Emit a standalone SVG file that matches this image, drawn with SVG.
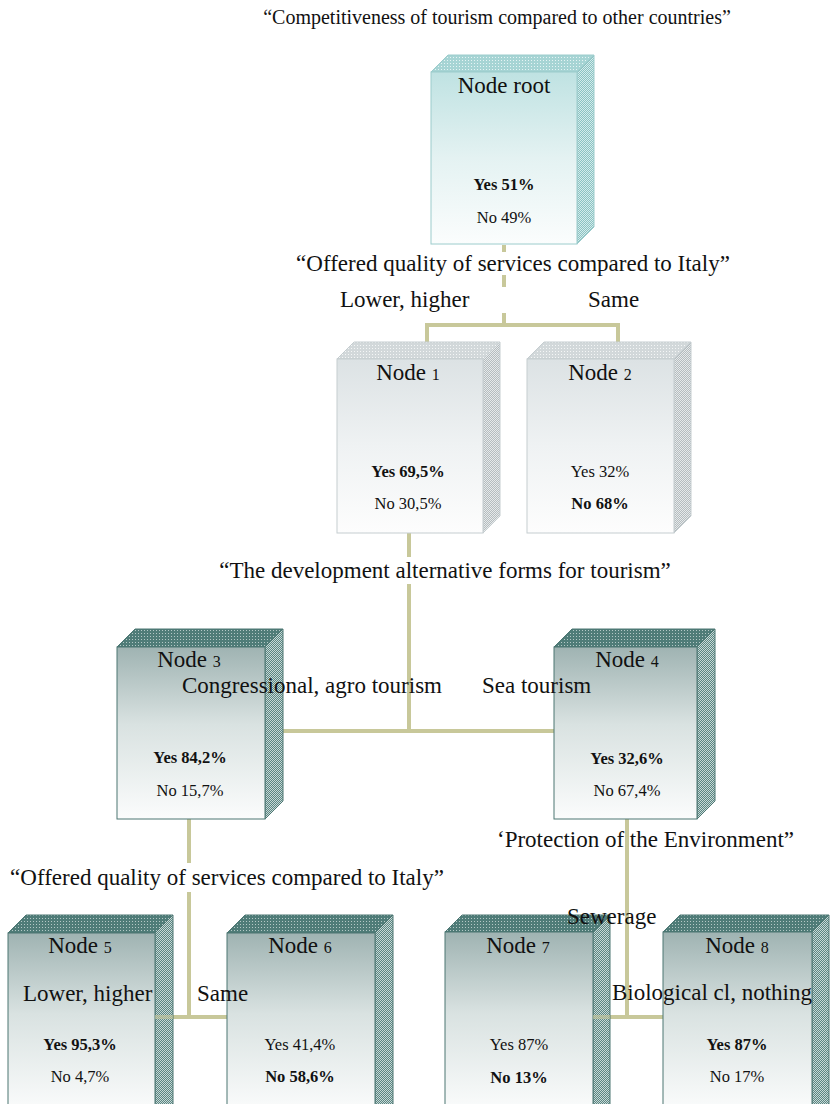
<svg xmlns="http://www.w3.org/2000/svg" width="830" height="1104" viewBox="0 0 830 1104">
<style>
text{font-family:"Liberation Serif","Times New Roman",serif;fill:#111}
.t{font-size:20px}
.l{font-size:23px}
.n{font-size:23px;text-anchor:middle}
.s{font-size:16px}
.v{font-size:16.5px;text-anchor:middle}
.b{font-weight:bold}
.con{fill:none;stroke:#c8c89a;stroke-width:4}
.rootF{fill:url(#gRoot);stroke:#9ccccc;stroke-width:1}
.rootT{fill:url(#pRootT);stroke:#9ccccc;stroke-width:1}
.rootS{fill:url(#pRootS);stroke:#9ccccc;stroke-width:1}
.grF{fill:url(#gGray);stroke:#c5cdd0;stroke-width:1}
.grT{fill:url(#pGrayT);stroke:#c5cdd0;stroke-width:1}
.grS{fill:url(#pGrayS);stroke:#c5cdd0;stroke-width:1}
.dkF{fill:url(#gDark);stroke:#4d7773;stroke-width:1}
.dkT{fill:url(#pDarkT);stroke:#4d7773;stroke-width:1}
.dkS{fill:url(#pDarkS);stroke:#4d7773;stroke-width:1}
</style>
<defs>
<linearGradient id="gRoot" x1="0" y1="0" x2="0" y2="1"><stop offset="0" stop-color="#bfe2e2"/><stop offset="0.5" stop-color="#e4f2f2"/><stop offset="1" stop-color="#fbfdfd"/></linearGradient>
<linearGradient id="gGray" x1="0" y1="0" x2="0" y2="1"><stop offset="0" stop-color="#dce2e4"/><stop offset="0.5" stop-color="#eff2f3"/><stop offset="1" stop-color="#fdfdfd"/></linearGradient>
<linearGradient id="gDark" x1="0" y1="0" x2="0" y2="1"><stop offset="0" stop-color="#9fb3b2"/><stop offset="0.45" stop-color="#d9e2e1"/><stop offset="1" stop-color="#fbfcfc"/></linearGradient>
<pattern id="pRootT" width="3" height="3" patternUnits="userSpaceOnUse"><rect width="3" height="3" fill="#a6d4d4"/><rect width="1" height="1" fill="#e6f4f4"/></pattern>
<pattern id="pRootS" width="2" height="2" patternUnits="userSpaceOnUse"><rect width="2" height="2" fill="#8cc2c2"/><rect width="1" height="1" fill="#d4ecec"/><rect x="1" y="1" width="1" height="1" fill="#d4ecec"/></pattern>
<pattern id="pGrayT" width="3" height="3" patternUnits="userSpaceOnUse"><rect width="3" height="3" fill="#d2d8da"/><rect width="1" height="1" fill="#f4f6f6"/></pattern>
<pattern id="pGrayS" width="2" height="2" patternUnits="userSpaceOnUse"><rect width="2" height="2" fill="#b4bcbf"/><rect width="1" height="1" fill="#e6e9ea"/><rect x="1" y="1" width="1" height="1" fill="#e6e9ea"/></pattern>
<pattern id="pDarkT" width="3" height="3" patternUnits="userSpaceOnUse"><rect width="3" height="3" fill="#4f7c78"/><rect width="1" height="1" fill="#b4c8c6"/></pattern>
<pattern id="pDarkS" width="2" height="2" patternUnits="userSpaceOnUse"><rect width="2" height="2" fill="#5a8682"/><rect width="1" height="1" fill="#c8d8d6"/><rect x="1" y="1" width="1" height="1" fill="#c8d8d6"/></pattern>
</defs>
<rect width="830" height="1104" fill="#ffffff"/>
<g id="connectors">
<path class="con" d="M504 245V325M427 342V325H618V342"/>
<path class="con" d="M409 533V731M265 731H554"/>
<path class="con" d="M189 819V1017M155 1017H227"/>
<path class="con" d="M627 819V1017M593 1017H663"/>
</g>
<g id="label-bg" fill="#ffffff">
<rect x="288" y="252" width="452" height="23"/>
<rect x="340" y="287" width="310" height="26"/>
<rect x="215" y="557" width="462" height="27"/>
<rect x="6" y="863" width="444" height="29"/>
</g>
<g id="node-root">
<polygon class="rootT" points="431,72 448,55 594,55 577,72"/>
<polygon class="rootS" points="577,72 594,55 594,227 577,244"/>
<rect class="rootF" x="431" y="72" width="146" height="172"/>
<text class="n" x="504" y="93">Node root</text>
<text class="v b" x="504" y="190">Yes 51%</text>
<text class="v" x="504" y="223">No 49%</text>
</g>
<g id="node-1">
<polygon class="grT" points="337,359 354,342 500,342 483,359"/>
<polygon class="grS" points="483,359 500,342 500,516 483,533"/>
<rect class="grF" x="337" y="359" width="146" height="174"/>
<text class="n" x="408" y="380">Node <tspan class="s">1</tspan></text>
<text class="v b" x="408" y="477">Yes 69,5%</text>
<text class="v" x="408" y="509">No 30,5%</text>
</g>
<g id="node-2">
<polygon class="grT" points="527,359 544,342 691,342 674,359"/>
<polygon class="grS" points="674,359 691,342 691,516 674,533"/>
<rect class="grF" x="527" y="359" width="147" height="174"/>
<text class="n" x="600" y="380">Node <tspan class="s">2</tspan></text>
<text class="v" x="600" y="477">Yes 32%</text>
<text class="v b" x="600" y="509">No 68%</text>
</g>
<g id="node-3">
<polygon class="dkT" points="117,647 135,629 283,629 265,647"/>
<polygon class="dkS" points="265,647 283,629 283,801 265,819"/>
<rect class="dkF" x="117" y="647" width="148" height="172"/>
<text class="n" x="189" y="667">Node <tspan class="s">3</tspan></text>
<text class="v b" x="190" y="763">Yes 84,2%</text>
<text class="v" x="190" y="796">No 15,7%</text>
</g>
<g id="node-4">
<polygon class="dkT" points="554,647 572,629 715,629 697,647"/>
<polygon class="dkS" points="697,647 715,629 715,801 697,819"/>
<rect class="dkF" x="554" y="647" width="143" height="172"/>
<text class="n" x="627" y="667">Node <tspan class="s">4</tspan></text>
<text class="v b" x="627" y="764">Yes 32,6%</text>
<text class="v" x="627" y="796">No 67,4%</text>
</g>
<g id="node-5">
<polygon class="dkT" points="8,933 26,915 173,915 155,933"/>
<polygon class="dkS" points="155,933 173,915 173,1104 155,1110"/>
<rect class="dkF" x="8" y="933" width="147" height="180"/>
<text class="n" x="80" y="953">Node <tspan class="s">5</tspan></text>
<text class="v b" x="80" y="1050">Yes 95,3%</text>
<text class="v" x="80" y="1082">No 4,7%</text>
</g>
<g id="node-6">
<polygon class="dkT" points="227,933 245,915 393,915 375,933"/>
<polygon class="dkS" points="375,933 393,915 393,1104 375,1110"/>
<rect class="dkF" x="227" y="933" width="148" height="180"/>
<text class="n" x="300" y="953">Node <tspan class="s">6</tspan></text>
<text class="v" x="300" y="1050">Yes 41,4%</text>
<text class="v b" x="300" y="1082">No 58,6%</text>
</g>
<g id="node-7">
<polygon class="dkT" points="445,932 462,915 610,915 593,932"/>
<polygon class="dkS" points="593,932 610,915 610,1104 593,1110"/>
<rect class="dkF" x="445" y="932" width="148" height="180"/>
<text class="n" x="518" y="953">Node <tspan class="s">7</tspan></text>
<text class="v" x="519" y="1050">Yes 87%</text>
<text class="v b" x="519" y="1083">No 13%</text>
</g>
<g id="node-8">
<polygon class="dkT" points="663,932 680,915 829,915 812,932"/>
<polygon class="dkS" points="812,932 829,915 829,1104 812,1110"/>
<rect class="dkF" x="663" y="932" width="149" height="180"/>
<text class="n" x="737" y="953">Node <tspan class="s">8</tspan></text>
<text class="v b" x="737" y="1050">Yes 87%</text>
<text class="v" x="737" y="1082">No 17%</text>
</g>
<g id="overlay-connectors">
<path class="con" opacity="0.6" d="M155 1017H173M593 1017H610"/>
</g>
<g id="labels">
<text class="t" x="497" y="24" text-anchor="middle">“Competitiveness of tourism compared to other countries”</text>
<text class="l" x="513" y="271" text-anchor="middle">“Offered quality of services compared to Italy”</text>
<text class="l" x="340" y="307">Lower, higher</text>
<text class="l" x="588" y="307">Same</text>
<text class="l" x="445" y="578" text-anchor="middle">“The development alternative forms for tourism”</text>
<text class="l" x="182" y="693">Congressional, agro tourism</text>
<text class="l" x="482" y="693">Sea tourism</text>
<text class="l" x="497" y="847">‘Protection of the Environment”</text>
<text class="l" x="227" y="885" text-anchor="middle">“Offered quality of services compared to Italy”</text>
<text class="l" x="567" y="924">Sewerage</text>
<text class="l" x="23" y="1001">Lower, higher</text>
<text class="l" x="197" y="1001">Same</text>
<text class="l" x="612" y="1000">Biological cl, nothing</text>
</g>
</svg>
